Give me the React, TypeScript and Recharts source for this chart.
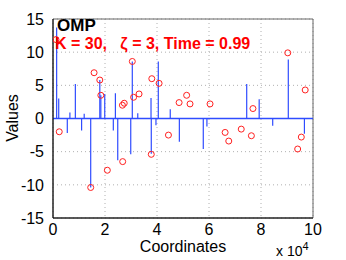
import { ComposedChart, Scatter, XAxis, YAxis, CartesianGrid, ReferenceLine, ReferenceArea } from 'recharts';

// original sparse signal (stems)
const stemCoords = [1400, 2200, 5500, 6500, 8600, 11000, 12000, 14500, 18000, 18400, 19900, 23200, 24000, 24900, 29900, 30500, 32600, 37700, 37800, 39600, 40500, 45100, 48600, 57800, 59200, 74500, 79300, 84500, 90500, 96700];
const stemValues = [13.7, 3.0, -2.2, 0.9, 5.2, -1.8, 0.7, -10.4, 5.8, 3.5, 3.7, -1.8, 3.8, -6.3, -5.4, 8.6, 0.8, 3.1, -5.3, -1.0, 8.6, 1.4, -3.5, -4.6, -1.2, 5.2, 2.9, -1.1, 8.9, -2.3];

// recovered coefficients (circles)
const recCoords = [1150, 2400, 14500, 15800, 18000, 18400, 20900, 26700, 26800, 27400, 30500, 31000, 33100, 37800, 38000, 40800, 44400, 48500, 51400, 52700, 60400, 66200, 67600, 72400, 76300, 76900, 90300, 94100, 95500, 97000];
const recValues = [11.9, -2.0, -10.4, 6.9, 5.8, 3.5, -7.8, 2.0, -6.5, 2.3, 8.6, 3.2, 3.7, -5.4, 6.0, 5.3, -2.5, 2.4, 3.5, 2.2, 2.2, -2.1, -3.4, -1.6, -2.6, 1.5, 9.9, -4.6, -2.8, 4.3];

const xTicks = [0, 20000, 40000, 60000, 80000, 100000];
const yTicks = [-15, -10, -5, 0, 5, 10, 15];

const recovered = recCoords.map((x, i) => ({ x, y: recValues[i] }));

const font = 'Liberation Sans, Arial, sans-serif';

const Circle = (props: any) => {
    const { cx, cy } = props;
    return <circle cx={cx} cy={cy} r={3} fill="none" stroke="#ff2020" strokeWidth={1} />;
};

const App = () => {
    return (
        <div style={{ position: 'absolute', left: 0, top: 0, width: 346, height: 260, background: '#fff', fontFamily: font }}>
            <ComposedChart width={346} height={260} margin={{ top: 19, right: 33, bottom: 22, left: 0 }}>
                <CartesianGrid strokeDasharray="1 3" stroke="#b0b0b0" />
                <XAxis
                    type="number"
                    dataKey="x"
                    domain={[0, 100000]}
                    ticks={xTicks}
                    tickFormatter={(v: number) => String(v / 10000)}
                    height={20}
                    tickLine={false}
                    tickMargin={0}
                    stroke="#000"
                    tick={{ fill: '#000', fontSize: 16, fontFamily: font }}
                    allowDataOverflow
                />
                <YAxis
                    type="number"
                    dataKey="y"
                    domain={[-15, 15]}
                    ticks={yTicks}
                    width={53}
                    tickLine={false}
                    tickMargin={3}
                    stroke="#000"
                    tick={{ fill: '#000', fontSize: 16, fontFamily: font }}
                    allowDataOverflow
                />
                <ReferenceArea x1={0} x2={100000} y1={-15} y2={15} fill="none" stroke="#666" strokeWidth={1} />
                <ReferenceLine y={0} stroke="#2f4cff" strokeWidth={1.5} />
                {stemCoords.map((x, i) => (
                    <ReferenceLine
                        key={i}
                        segment={[{ x, y: 0 }, { x, y: stemValues[i] }]}
                        stroke="#2f4cff"
                        strokeWidth={1.2}
                    />
                ))}
                <Scatter data={recovered} dataKey="y" shape={Circle} isAnimationActive={false} />
            </ComposedChart>
            <div style={{ position: 'absolute', left: 57, top: 17, fontSize: 17, fontWeight: 'bold', color: '#000', lineHeight: '18px' }}>OMP</div>
            <div style={{ position: 'absolute', left: 55, top: 35, fontSize: 16, fontWeight: 'bold', color: '#ff0000', lineHeight: '18px', whiteSpace: 'pre' }}>
                {'K = 30,   ζ = 3, Time = 0.99'}
            </div>
            <div style={{ position: 'absolute', left: 4, top: 118, width: 0, height: 0 }}>
                <div style={{ position: 'absolute', transform: 'translate(-50%, -50%) rotate(-90deg)', left: 9, top: 0, fontSize: 16, whiteSpace: 'pre' }}>Values</div>
            </div>
            <div style={{ position: 'absolute', left: 183, top: 247, width: 0, height: 0 }}>
                <div style={{ position: 'absolute', transform: 'translate(-50%, -50%)', fontSize: 16, whiteSpace: 'pre' }}>Coordinates</div>
            </div>
            <div style={{ position: 'absolute', left: 276, top: 238, fontSize: 14, color: '#000', whiteSpace: 'pre', lineHeight: '16px' }}>
                x 10<sup style={{ fontSize: 11 }}>4</sup>
            </div>
        </div>
    );
};

export default App;
